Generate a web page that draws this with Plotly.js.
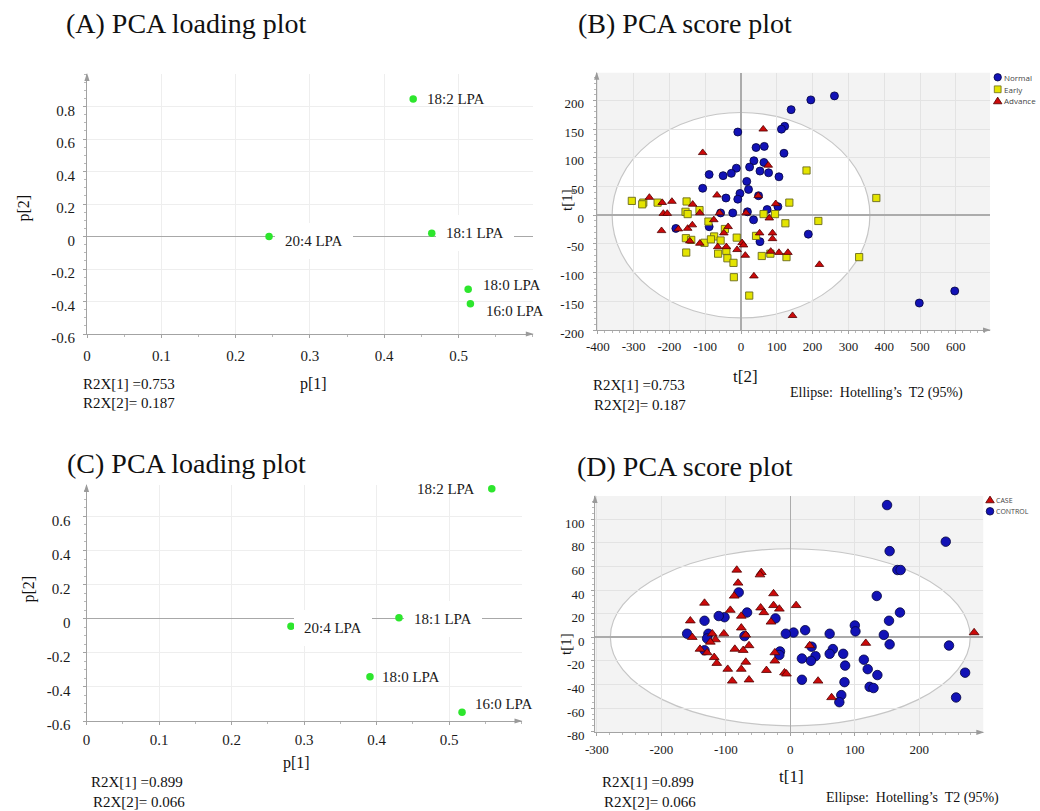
<!DOCTYPE html>
<html><head><meta charset="utf-8">
<script src="https://cdn.plot.ly/plotly-3.0.1.min.js"></script>
<style>html,body{margin:0;padding:0;background:#fff;}#chart{width:1040px;height:811px;}</style>
</head><body><div id="chart"></div>
<script>
// ---------------- DATA ----------------
const loadingLabels = ['18:2 LPA', '20:4 LPA', '18:1 LPA', '18:0 LPA', '16:0 LPA'];
const loadA_p1 = [0.439, 0.245, 0.464, 0.513, 0.516];
const loadA_p2 = [0.846, 0.000, 0.020, -0.325, -0.414];
const loadC_p1 = [0.559, 0.282, 0.431, 0.391, 0.518];
const loadC_p2 = [0.762, -0.045, 0.006, -0.341, -0.549];

const normal_t2 = [261, 195, 140, 122, 113, -9, 42, 65, 120, 36, 64, -13, 24, 53, 77, 106, -89, -50, -27, 16, 21, -107, -3, -42, -9, 49, 73, 103, -23, -57, 18, 35, -182, -89, 53, 188, 498, 597];
const normal_t1 = [208, 201, 184, 155, 150, 145, 118, 120, 108, 95, 92, 82, 84, 77, 74, 67, 71, 69, 73, 59, 45, 47, 38, 30, 28, 34, 10, 15, 4, 4, 6, -8, -23, -20, -46, -33, -153, -132];

const early_t2 = [-305, -273, -276, -233, -152, -155, -149, -116, -91, -45, -154, -139, -102, -75, -84, -57, -12, 42, 63, 95, 135, 124, 216, 183, -153, -64, -38, -21, -41, -20, 23, 58, 82, 127, 378, 330];
const early_t1 = [25, 22, 19, 22, 24, 6, 2, 9, -11, -24, -40, -43, -48, -37, -42, -44, -39, -36, 2, 2, 22, -14, -10, 78, -65, -67, -75, -83, -62, -108, -140, -71, -67, -73, 30, -73];

const advance_t2 = [-256, -220, -193, -217, -206, -222, -175, -149, -136, -135, -115, -143, -115, -107, -67, -60, -76, -36, -48, -65, -41, -11, 3, 7, 12, 36, 14, 48, 52, 62, 76, 79, 88, 88, 97, 83, 106, 131, 144, 219];
const advance_t1 = [31, 22, 24, 3, 3, -27, -24, -23, -17, 19, 4, -45, -49, 109, 35, 4, -8, -20, -31, -55, -55, -60, -48, -52, -70, -106, 4, 34, -31, 150, 87, -5, -31, -41, 20, -63, -65, -65, -175, -86];

const control_t1 = [150, 241, 154, 166, 171, 134, 170, 153, 100, 101, 145, 154, 246, 271, 257, 114, 120, 135, 123, 129, 85, 82, 84, 79, 76, 61, 66, 61, 39, 32, 33, 18, 18, 23, 5, -7, -16, -17, -23, -67, -80, -71, -102, -111, -133, -160, -127, -129, -133];
const control_t2 = [112, 81, 73, 57, 57, 35, 21, 14, 10, 5, 2, -6, -7, -30, -51, -19, -27, -32, -42, -43, -24, -14, -38, -49, -55, 3, -10, -14, -16, -20, -8, -18, -36, 6, 4, 3, -12, -15, 16, 21, 38, 1, 17, 18, 14, 3, 3, -1, -11];

const case_t1 = [-83, -45, -47, -81, -87, -26, -133, -93, -76, -46, -41, -26, -17, -30, 9, -155, -152, -121, -103, -76, -69, -116, -124, -140, -129, -118, -114, -86, -73, -64, -69, -97, -76, -90, -64, -37, -24, -24, -9, -6, 30, 43, 64, 117, 285];
const case_t2 = [57, 55, 53, 46, 35, 37, 29, 23, 18, 25, 21, 27, 24, 13, 27, 14, 0, 3, 3, 8, 2, -2, -4, -10, -13, -17, -22, -10, -11, -7, -21, -27, -27, -37, -36, -28, -13, -20, -30, -31, -7, -37, -51, -5, 4];

// Hotelling's T2 (95%) ellipse semi-axes
const ellipseB = [360, 179];
const ellipseD = [279, 75];

// tick labels
const loadX_ticks = [0, 0.1, 0.2, 0.3, 0.4, 0.5];
const loadX_text = ['0', '0.1', '0.2', '0.3', '0.4', '0.5'];
const loadA_yticks = [-0.6, -0.4, -0.2, 0, 0.2, 0.4, 0.6, 0.8];
const loadA_ytext = ['-0.6', '-0.4', '-0.2', '0', '0.2', '0.4', '0.6', '0.8'];
const loadC_yticks = [-0.6, -0.4, -0.2, 0, 0.2, 0.4, 0.6];
const loadC_ytext = ['-0.6', '-0.4', '-0.2', '0', '0.2', '0.4', '0.6'];
const scoreB_xticks = [-400, -300, -200, -100, 0, 100, 200, 300, 400, 500, 600];
const scoreB_xtext = ['-400', '-300', '-200', '-100', '0', '100', '200', '300', '400', '500', '600'];
const scoreB_yticks = [-200, -150, -100, -50, 0, 50, 100, 150, 200];
const scoreB_ytext = ['-200', '-150', '-100', '-50', '0', '50', '100', '150', '200'];
const scoreD_xticks = [-300, -200, -100, 0, 100, 200];
const scoreD_xtext = ['-300', '-200', '-100', '0', '100', '200'];
const scoreD_yticks = [-80, -60, -40, -20, 0, 20, 40, 60, 80, 100];
const scoreD_ytext = ['-80', '-60', '-40', '-20', '0', '20', '40', '60', '80', '100'];

// ---------------- STYLE / LAYOUT ----------------
const W = 1040, H = 811;
const px = x => x / W, py = y => 1 - y / H;
const SERIF = '"Liberation Serif", "Times New Roman", serif';
const SANS = '"Open Sans", "Liberation Sans", Arial, sans-serif';
const BLUE = '#1212b6', BLUE_L = '#04043e';
const YEL = '#e4e400', YEL_L = '#6a6a1c';
const RED = '#cc0a0a', RED_L = '#520000';
const GREEN = '#2de62d';
const AXC = '#a3a3a3';

function axis(o) {
  const a = {
    showline: true, linecolor: AXC, linewidth: 1,
    showgrid: true, gridcolor: '#eeeeee', gridwidth: 1,
    zeroline: false, ticks: 'outside', ticklen: 3, tickcolor: AXC, tickwidth: 1,
    tickmode: 'array', fixedrange: true,
    tickfont: {family: SERIF, size: 15, color: '#1a1a1a'},
    minor: {tickmode: 'linear', tick0: 0, ticks: 'outside', ticklen: 2, tickcolor: '#b8b8b8', tickwidth: 1, showgrid: false}
  };
  const minorD = o.minorDtick; delete o.minorDtick;
  Object.assign(a, o);
  a.minor.dtick = minorD;
  return a;
}

const layout = {
  width: W, height: H, autosize: false,
  margin: {l: 0, r: 0, t: 0, b: 0, pad: 0},
  paper_bgcolor: '#ffffff', plot_bgcolor: '#ffffff',
  showlegend: false, hovermode: false,
  xaxis: axis({anchor: 'y', domain: [px(87), px(532.8)], range: [0, 0.6], tickvals: loadX_ticks, ticktext: loadX_text, minorDtick: 0.05, ticklabelstandoff: 5}),
  yaxis: axis({anchor: 'x', domain: [py(334), py(74)], range: [-0.6, 1.0], tickvals: loadA_yticks, ticktext: loadA_ytext, minorDtick: 0.05, zeroline: true, zerolinecolor: '#a8a8a8', zerolinewidth: 1, ticklabelstandoff: 5, ticklabelshift: 4}),
  xaxis2: axis({anchor: 'y2', domain: [px(596.7), px(990)], range: [-403.1, 695.5], tickvals: scoreB_xticks, ticktext: scoreB_xtext, minorDtick: 20, zeroline: true, zerolinecolor: '#ababab', zerolinewidth: 1.6, gridcolor: '#e3e3e3', tickfont: {family: SERIF, size: 13, color: '#1a1a1a'}, ticklabelstandoff: 1}),
  yaxis2: axis({anchor: 'x2', domain: [py(330), py(72.7)], range: [-200, 248.4], tickvals: scoreB_yticks, ticktext: scoreB_ytext, minorDtick: 10, zeroline: true, zerolinecolor: '#ababab', zerolinewidth: 1.6, gridcolor: '#e3e3e3', tickfont: {family: SERIF, size: 13, color: '#1a1a1a'}, ticklabelstandoff: 6, ticklabelshift: 3}),
  xaxis3: axis({anchor: 'y3', domain: [px(86.5), px(521.5)], range: [0, 0.6], tickvals: loadX_ticks, ticktext: loadX_text, minorDtick: 0.05, ticklabelstandoff: 2}),
  yaxis3: axis({anchor: 'x3', domain: [py(721), py(485)], range: [-0.6, 0.784], tickvals: loadC_yticks, ticktext: loadC_ytext, minorDtick: 0.05, zeroline: true, zerolinecolor: '#a8a8a8', zerolinewidth: 1, ticklabelstandoff: 9, ticklabelshift: 4}),
  xaxis4: axis({anchor: 'y4', domain: [px(595), px(983.3)], range: [-302.8, 299.2], tickvals: scoreD_xticks, ticktext: scoreD_xtext, minorDtick: 20, zeroline: true, zerolinecolor: '#ababab', zerolinewidth: 1.6, gridcolor: '#e3e3e3', tickfont: {family: SERIF, size: 13, color: '#1a1a1a'}, ticklabelstandoff: 2}),
  yaxis4: axis({anchor: 'x4', domain: [py(732.3), py(496)], range: [-80.5, 119.7], tickvals: scoreD_yticks, ticktext: scoreD_ytext, minorDtick: 5, zeroline: true, zerolinecolor: '#ababab', zerolinewidth: 1.6, gridcolor: '#e3e3e3', tickfont: {family: SERIF, size: 13, color: '#1a1a1a'}, ticklabelstandoff: 4, ticklabelshift: 4}),
  shapes: [],
  annotations: []
};

// score-plot backgrounds and Hotelling ellipses
[['x2', 'y2', ellipseB], ['x4', 'y4', ellipseD]].forEach(([xa, ya, e]) => {
  layout.shapes.push({type: 'rect', xref: xa + ' domain', yref: ya + ' domain', x0: 0, x1: 1, y0: 0, y1: 1, fillcolor: '#f3f3f3', line: {width: 0}, layer: 'below'});
  layout.shapes.push({type: 'circle', xref: xa, yref: ya, x0: -e[0], x1: e[0], y0: -e[1], y1: e[1], fillcolor: '#ffffff', line: {color: '#c6c6c6', width: 1.2}, layer: 'below'});
});

// axis arrowheads (pixel positions of axis ends)
function arrowUp(x, yTop) {
  layout.shapes.push({type: 'path', xref: 'paper', yref: 'paper', layer: 'above',
    path: `M ${px(x - 2.6)} ${py(yTop + 7)} L ${px(x + 2.6)} ${py(yTop + 7)} L ${px(x)} ${py(yTop - 1)} Z`,
    fillcolor: '#9a9a9a', line: {width: 0}});
}
function arrowRight(xEnd, y) {
  layout.shapes.push({type: 'path', xref: 'paper', yref: 'paper', layer: 'above',
    path: `M ${px(xEnd - 7)} ${py(y - 2.6)} L ${px(xEnd - 7)} ${py(y + 2.6)} L ${px(xEnd + 1)} ${py(y)} Z`,
    fillcolor: '#9a9a9a', line: {width: 0}});
}
arrowUp(87, 74); arrowRight(532.8, 334);
arrowUp(596.7, 72.7); arrowRight(990, 330);
arrowUp(86.5, 485); arrowRight(521.5, 721);
arrowUp(595, 496); arrowRight(983.3, 732.3);

// free text
function txt(text, x, y, size, opts) {
  return Object.assign({xref: 'paper', yref: 'paper', x: px(x), y: py(y), text: text, showarrow: false,
    xanchor: 'left', yanchor: 'middle', borderpad: 0, borderwidth: 0,
    font: {family: SERIF, size: size, color: '#111111'}}, opts || {});
}
const A = layout.annotations;
A.push(txt('(A) PCA loading plot', 66, 24, 28));
A.push(txt('(B) PCA score plot', 578, 24, 28));
A.push(txt('(C) PCA loading plot', 66.5, 463, 28));
A.push(txt('(D) PCA score plot', 577, 466, 28));

A.push(txt('p[2]', 23.5, 208, 16, {xanchor: 'center', textangle: -90}));
A.push(txt('p[1]', 313.3, 384, 16, {xanchor: 'center'}));
A.push(txt('R2X[1] =0.753', 82.7, 384, 15));
A.push(txt('R2X[2]= 0.187', 82.7, 403.3, 15));

A.push(txt('t[1]', 567, 200, 15, {xanchor: 'center', textangle: -90}));
A.push(txt('t[2]', 745, 376.7, 17, {xanchor: 'center'}));
A.push(txt('R2X[1] =0.753', 593.3, 385, 15));
A.push(txt('R2X[2]= 0.187', 594.3, 405, 15));
A.push(txt('Ellipse:  Hotelling’s  T2 (95%)', 790, 393.3, 14));

A.push(txt('p[2]', 29.3, 589.3, 16, {xanchor: 'center', textangle: -90}));
A.push(txt('p[1]', 296.7, 762.7, 16, {xanchor: 'center'}));
A.push(txt('R2X[1] =0.899', 90.7, 782.3, 15));
A.push(txt('R2X[2]= 0.066', 92.7, 801.7, 15));

A.push(txt('t[1]', 566, 644, 15, {xanchor: 'center', textangle: -90}));
A.push(txt('t[1]', 791.7, 776.7, 17, {xanchor: 'center'}));
A.push(txt('R2X[1] =0.899', 601.7, 782.3, 15));
A.push(txt('R2X[2]= 0.066', 604.3, 802.3, 15));
A.push(txt('Ellipse:  Hotelling’s  T2 (95%)', 825.7, 797.7, 14));

// loading labels: [dx (text start/end rel. to point), dy (up +), anchor, white box]
const labelStyleA = [[13.7, 0, 'left', false], [16.4, -4, 'left', true], [14.7, 0.5, 'left', true], [15.3, 4.7, 'left', false], [16, -7, 'left', false]];
const labelStyleC = [[-16.7, 0, 'right', false], [13, -1.7, 'left', true], [15.3, -1.7, 'left', true], [12.4, 0, 'left', false], [12.7, 8.4, 'left', false]];
function loadLabels(xs, ys, xr, yr, styles) {
  loadingLabels.forEach((lab, i) => {
    const [dx, dy, anc, box] = styles[i];
    const pad = box ? 10 : 0;
    A.push({xref: xr, yref: yr, x: xs[i], y: ys[i], text: lab, showarrow: false,
      xanchor: anc, yanchor: 'middle', xshift: anc === 'left' ? dx - pad : dx + pad, yshift: dy,
      borderpad: pad, borderwidth: 0, bgcolor: box ? '#ffffff' : 'rgba(0,0,0,0)',
      font: {family: SERIF, size: 15, color: '#1a1a1a'}});
  });
}
loadLabels(loadA_p1, loadA_p2, 'x', 'y', labelStyleA);
loadLabels(loadC_p1, loadC_p2, 'x3', 'y3', labelStyleC);

// legends (drawn manually, compact like the original software)
function legCircle(cx, cy, r, fill, ln) {
  layout.shapes.push({type: 'circle', xref: 'paper', yref: 'paper', layer: 'above', x0: px(cx - r), x1: px(cx + r), y0: py(cy + r), y1: py(cy - r), fillcolor: fill, line: {color: ln, width: 0.8}});
}
function legSquare(cx, cy, r, fill, ln) {
  layout.shapes.push({type: 'rect', xref: 'paper', yref: 'paper', layer: 'above', x0: px(cx - r), x1: px(cx + r), y0: py(cy + r), y1: py(cy - r), fillcolor: fill, line: {color: ln, width: 0.8}});
}
function legTri(cx, cy, r, fill, ln) {
  layout.shapes.push({type: 'path', xref: 'paper', yref: 'paper', layer: 'above',
    path: `M ${px(cx - r * 1.15)} ${py(cy + r * 0.75)} L ${px(cx + r * 1.15)} ${py(cy + r * 0.75)} L ${px(cx)} ${py(cy - r * 1.05)} Z`,
    fillcolor: fill, line: {color: ln, width: 0.8}});
}
legCircle(997.7, 77.3, 3.7, BLUE, BLUE_L);
legSquare(997.7, 89.3, 3.4, YEL, YEL_L);
legTri(997.7, 101, 3.7, RED, RED_L);
A.push(txt('Normal', 1003.5, 77.3, 8, {font: {family: SANS, size: 8, color: '#444'}}));
A.push(txt('Early', 1003.5, 89.3, 8, {font: {family: SANS, size: 8, color: '#444'}}));
A.push(txt('Advance', 1003.5, 101, 8, {font: {family: SANS, size: 8, color: '#444'}}));
legTri(990, 500, 3.7, RED, RED_L);
legCircle(990, 511.3, 3.8, BLUE, BLUE_L);
A.push(txt('CASE', 995.5, 500, 7, {font: {family: SANS, size: 7, color: '#444'}}));
A.push(txt('CONTROL', 995.5, 511.3, 7, {font: {family: SANS, size: 7, color: '#444'}}));

// ---------------- TRACES ----------------
const traces = [
  {type: 'scatter', mode: 'markers', x: loadA_p1, y: loadA_p2, xaxis: 'x', yaxis: 'y', marker: {size: 7.5, color: GREEN, line: {width: 0}}, hoverinfo: 'skip'},
  {type: 'scatter', mode: 'markers', x: loadC_p1, y: loadC_p2, xaxis: 'x3', yaxis: 'y3', marker: {size: 7.5, color: GREEN, line: {width: 0}}, hoverinfo: 'skip'},
  {type: 'scatter', mode: 'markers', name: 'Normal', x: normal_t2, y: normal_t1, xaxis: 'x2', yaxis: 'y2', marker: {symbol: 'circle', size: 8, color: BLUE, line: {color: BLUE_L, width: 0.8}}, hoverinfo: 'skip'},
  {type: 'scatter', mode: 'markers', name: 'Early', x: early_t2, y: early_t1, xaxis: 'x2', yaxis: 'y2', marker: {symbol: 'square', size: 7.2, color: YEL, line: {color: YEL_L, width: 0.9}}, hoverinfo: 'skip'},
  {type: 'scatter', mode: 'markers', name: 'Advance', x: advance_t2, y: advance_t1, xaxis: 'x2', yaxis: 'y2', marker: {symbol: 'triangle-up', size: 7.5, color: RED, line: {color: RED_L, width: 0.8}}, hoverinfo: 'skip'},
  {type: 'scatter', mode: 'markers', name: 'CONTROL', x: control_t1, y: control_t2, xaxis: 'x4', yaxis: 'y4', marker: {symbol: 'circle', size: 9.5, color: BLUE, line: {color: BLUE_L, width: 0.8}}, hoverinfo: 'skip'},
  {type: 'scatter', mode: 'markers', name: 'CASE', x: case_t1, y: case_t2, xaxis: 'x4', yaxis: 'y4', marker: {symbol: 'triangle-up', size: 8.5, color: RED, line: {color: RED_L, width: 0.8}}, hoverinfo: 'skip'}
];

Plotly.newPlot('chart', traces, layout, {staticPlot: true, displayModeBar: false});
</script>
</body></html>
